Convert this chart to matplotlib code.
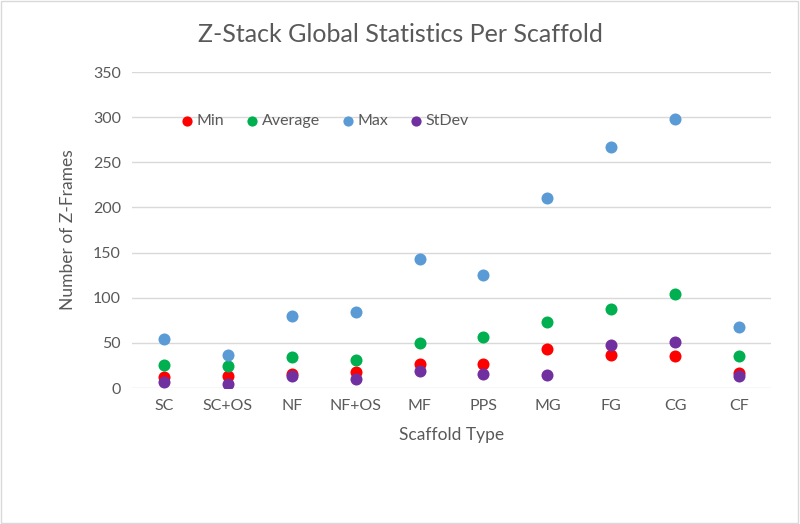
import matplotlib.pyplot as plt
from matplotlib.patches import Rectangle

plt.rcParams['font.family'] = ['Lato', 'DejaVu Sans']

scaffolds = ["SC", "SC+OS", "NF", "NF+OS", "MF", "PPS", "MG", "FG", "CG", "CF"]
min_vals = [12, 13, 16, 18, 27, 27, 43, 36, 35, 17]
avg_vals = [26, 24, 34, 31, 50, 56, 73, 87, 104, 35]
max_vals = [54, 36, 80, 84, 143, 125, 210, 267, 298, 68]
std_vals = [7, 4, 13, 10, 19, 16, 14, 48, 51, 13]

series = [("Min", min_vals, "#FF0000"),
          ("Average", avg_vals, "#00B050"),
          ("Max", max_vals, "#5B9BD5"),
          ("StDev", std_vals, "#7030A0")]

fig = plt.figure(figsize=(8, 5.24), dpi=100)
ax = fig.add_axes([132/800, 1-388/524, (771-132)/800, (388-72)/524])

x = range(len(scaffolds))
for name, vals, col in series:
    ax.scatter(x, vals, s=75, color=col, label=name, zorder=3, linewidths=0)

ax.set_ylim(0, 350)
ax.set_xlim(-0.5, len(scaffolds) - 0.5)
ax.set_yticks(range(0, 351, 50))
ax.set_xticks(list(x))
ax.set_xticklabels(scaffolds)
ax.tick_params(length=0, labelsize=11.5, colors="#595959", pad=8)
ax.grid(axis="y", color="#D9D9D9", linewidth=1)
ax.set_axisbelow(True)
for s in ax.spines.values():
    s.set_visible(False)

ax.set_ylabel("Number of Z-Frames", fontsize=12.5, color="#595959", labelpad=12)
ax.set_xlabel("Scaffold Type", fontsize=12.5, color="#595959", labelpad=10)
fig.text(0.5, 1-35/524, "Z-Stack Global Statistics Per Scaffold", fontsize=18,
         color="#595959", ha="center", va="center")

leg = ax.legend(loc="center left", bbox_to_anchor=(0.065, 0.845), ncol=4, frameon=False,
                fontsize=11.5, handlelength=0.7, handletextpad=0.25, columnspacing=1.4,
                borderpad=0, markerscale=0.85, scatterpoints=1)
for t in leg.get_texts():
    t.set_color("#595959")

fig.patches.append(Rectangle((0.001, 0.001), 0.997, 0.997, transform=fig.transFigure,
                             fill=False, edgecolor="#D9D9D9", linewidth=1))

fig.savefig("out.png", dpi=100)
